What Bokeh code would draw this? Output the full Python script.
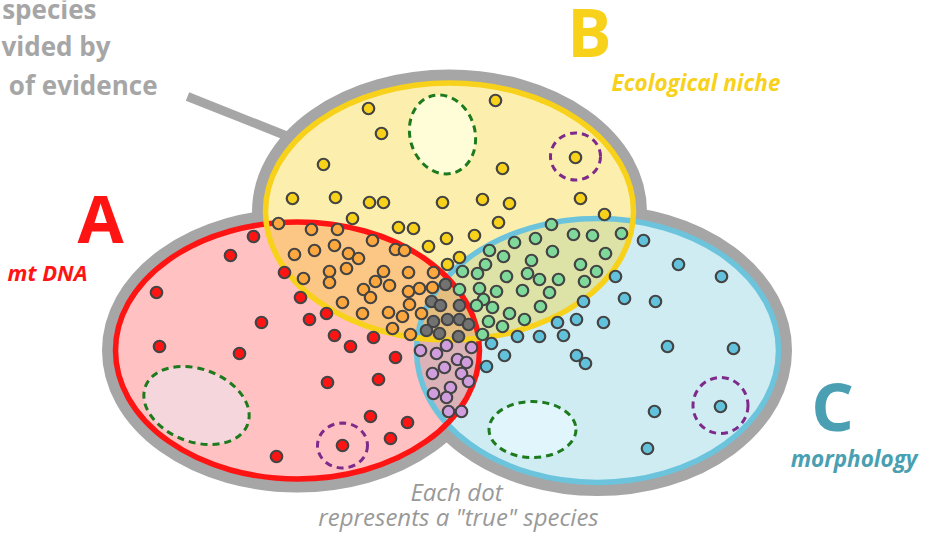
from bokeh.plotting import figure
from bokeh.models import Range1d
from bokeh.core.properties import value
from bokeh.embed import file_html
from bokeh.resources import INLINE

# ---------------- data: "true" species (dots), by evidence overlap ----------------
red_x = [253, 230, 156, 261, 159, 239, 284, 300, 309, 326, 334, 350, 373, 395, 327, 378, 370, 407, 390, 342, 276]
red_y = [236, 255, 292, 322, 346, 353, 272, 297, 319, 313, 335, 346, 337, 357, 382, 379, 416, 422, 438, 445, 456]

yellow_x = [368, 381, 323, 495, 502, 292, 335, 369, 383, 442, 482, 509, 352, 498, 398, 413, 575, 580, 604, 428, 446, 474, 459, 447]
yellow_y = [108, 133, 164, 100, 168, 198, 197, 202, 202, 202, 199, 203, 218, 222, 227, 228, 157, 198, 214, 246, 238, 235, 257, 264]

orange_x = [278, 311, 337, 294, 314, 334, 348, 358, 372, 395, 404, 303, 329, 329, 346, 383, 375, 389, 408, 433,
            363, 370, 408, 419, 432, 342, 362, 388, 402, 409, 421, 392, 410]
orange_y = [223, 229, 229, 254, 250, 245, 253, 258, 240, 249, 250, 278, 271, 282, 268, 271, 281, 285, 272, 272,
            289, 297, 291, 288, 287, 302, 313, 312, 316, 304, 313, 328, 334]

gray_x = [445, 431, 440, 459, 433, 447, 459, 468, 426, 439, 458]
gray_y = [284, 301, 305, 305, 321, 319, 319, 324, 330, 333, 336]

green_x = [551, 573, 592, 621, 535, 514, 552, 605, 489, 503, 531, 485, 580, 596, 477, 506, 527, 539, 558, 584,
           479, 496, 522, 549, 483, 476, 492, 540, 509, 524, 488, 502, 482, 462, 459]
green_y = [224, 234, 235, 233, 238, 242, 251, 253, 250, 256, 260, 264, 264, 271, 273, 276, 273, 279, 279, 281,
           288, 291, 290, 292, 299, 305, 307, 306, 313, 319, 321, 326, 334, 271, 289]

blue_x = [643, 615, 583, 624, 655, 557, 576, 603, 517, 539, 563, 491, 504, 576, 585, 486, 667, 678, 721, 733, 654, 720, 647]
blue_y = [240, 276, 301, 298, 301, 322, 319, 322, 336, 336, 335, 343, 355, 355, 363, 366, 346, 264, 276, 348, 411, 406, 448]

purple_x = [420, 436, 446, 471, 457, 466, 444, 432, 461, 468, 450, 433, 446, 461, 448]
purple_y = [350, 353, 345, 347, 359, 362, 367, 373, 373, 381, 387, 393, 397, 411, 411]

set_names = ["A", "B", "C"]
set_labels = ["mt DNA", "Ecological niche", "morphology"]
title_lines = ["species", "vided by", "of evidence"]
note_lines = ["Each dot", 'represents a "true" species']

# ---------------- layout / style ----------------
GRAY = "#a6a6a6"
set_geom = {  # cx, cy, w, h
    "A": (297, 350, 364, 257),
    "B": (449, 211, 368, 257),
    "C": (597, 350, 362, 264),
}
set_line = {"A": "#ff1414", "B": "#f8d11a", "C": "#6cc4dc"}
set_fill = {"A": ("#ff0000", 0.245), "B": ("#f7d117", 0.35), "C": ("#46b4d2", 0.26)}

p = figure(width=919, height=532, x_range=Range1d(0, 919), y_range=Range1d(532, 0),
           output_backend="svg", toolbar_location=None, x_axis_type=None, y_axis_type=None,
           min_border=0, outline_line_color=None)
p.background_fill_color = "white"
p.border_fill_color = "white"

# pointer line from title to the diagram
p.line([187, 285], [96, 135], line_color=GRAY, line_width=9)

# gray outer rings
for k in set_names:
    cx, cy, w, h = set_geom[k]
    p.ellipse(x=[cx], y=[cy], width=[w + 15], height=[h + 15], fill_color=None,
              line_color=GRAY, line_width=12)
# opaque white interiors
for k in set_names:
    cx, cy, w, h = set_geom[k]
    p.ellipse(x=[cx], y=[cy], width=[w], height=[h], fill_color="white", line_color=None)
# translucent fills
for k in ["C", "A", "B"]:
    cx, cy, w, h = set_geom[k]
    c, a = set_fill[k]
    p.ellipse(x=[cx], y=[cy], width=[w], height=[h], fill_color=c, fill_alpha=a, line_color=None)
# outlines
for k in ["C", "A", "B"]:
    cx, cy, w, h = set_geom[k]
    p.ellipse(x=[cx], y=[cy], width=[w], height=[h], fill_color=None,
              line_color=set_line[k], line_width=5.5)

# dashed sub-groups
GREEN_D = "#1d7a1d"
PURPLE_D = "#7d2a8a"
p.ellipse(x=[442], y=[134], width=[65], height=[80], angle=[0.28], fill_color="#fffcd8",
          line_color=GREEN_D, line_width=3, line_dash="7 5")
p.ellipse(x=[196], y=[405], width=[109], height=[73], angle=[-0.35], fill_color="#f5d6dd",
          line_color=GREEN_D, line_width=3, line_dash="7 5")
p.ellipse(x=[532], y=[429], width=[87], height=[56], fill_color="#e0f5fc",
          line_color=GREEN_D, line_width=3, line_dash="7 5")
for cx, cy, w, h in [(575, 156, 50, 47), (342, 445, 50, 45), (720, 405, 55, 56)]:
    p.ellipse(x=[cx], y=[cy], width=[w], height=[h], fill_color=None,
              line_color=PURPLE_D, line_width=3, line_dash="7 5")

# dots
DOT = dict(size=11.5, line_color="#444444", line_width=2.2)
for xs, ys, col in [(red_x, red_y, "#ff1414"), (yellow_x, yellow_y, "#f8d11a"),
                    (orange_x, orange_y, "#fca83e"), (blue_x, blue_y, "#63c2db"),
                    (green_x, green_y, "#7fd99a"), (purple_x, purple_y, "#d19edd"),
                    (gray_x, gray_y, "#727272")]:
    p.scatter(xs, ys, fill_color=col, **DOT)

FONT = "Open Sans"

def lab(x, base, t, size, color, style="bold", align="left"):
    # text is positioned by the middle of its em box; shift from the wanted baseline
    p.text(x=[x], y=[base - 0.385 * size], text=[t], text_font=value(FONT),
           text_font_size=value(f"{size}px"), text_font_style=style, text_color=color,
           text_align=align, text_baseline="middle")

# big set letters
lab(100, 242, set_names[0], 67, "#ff1414", align="center")
lab(589, 56, set_names[1], 66, "#f8d11a", align="center")
lab(832, 430, set_names[2], 67, "#4a9fb2", align="center")
# set descriptions
lab(7, 280, set_labels[0], 22, "#ff1414", style="bold italic")
lab(611, 91, set_labels[1], 22.5, "#f8d11a", style="bold italic")
lab(917, 467, set_labels[2], 22.5, "#4a9fb2", style="bold italic", align="right")
# title fragment (clipped at the left edge in the reference)
lab(96, 19, title_lines[0], 26, GRAY, align="right")
lab(110, 56, title_lines[1], 26, GRAY, align="right")
lab(157, 95, title_lines[2], 26, GRAY, align="right")
# footnote
lab(456, 500, note_lines[0], 24, "#999999", style="italic", align="center")
lab(458, 525, note_lines[1], 24, "#999999", style="italic", align="center")

open("out.html", "w").write(file_html(p, INLINE))
